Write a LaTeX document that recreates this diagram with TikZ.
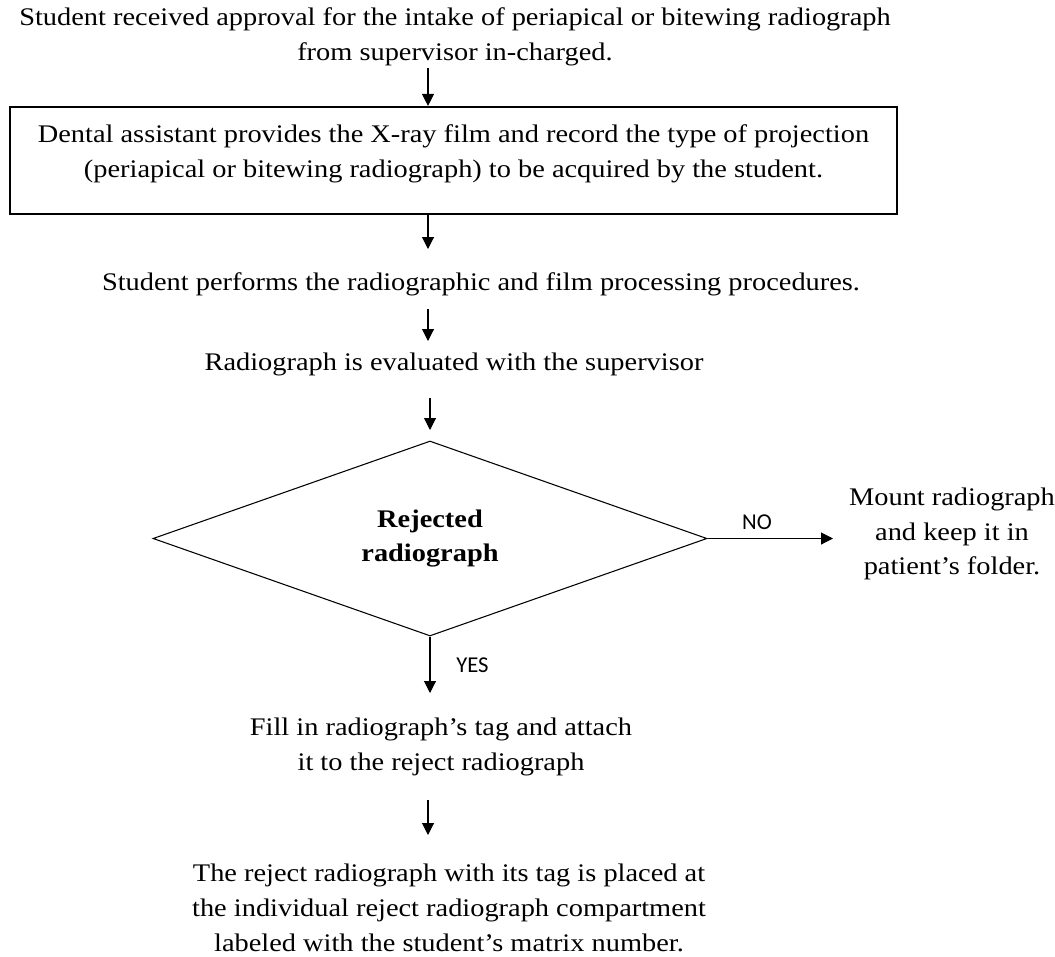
\documentclass[tikz,border=0pt]{standalone}
\usepackage{fontspec}
\setmainfont{Liberation Serif}[FakeStretch=1.12]
\newfontfamily\labelfont{Carlito}
\usetikzlibrary{shapes.geometric,arrows.meta}
\tikzset{
	step text/.style={align=center, font=\fontsize{19}{26}\selectfont},
	flow/.style={-{Triangle[length=9pt,width=9pt]}, line width=0.8pt},
	answer/.style={font=\labelfont\fontsize{17}{19}\selectfont}
}
\begin{document}
\begin{tikzpicture}[x=0.75pt, y=-0.75pt]
		\useasboundingbox (0,0) rectangle (1055,956);
		% Steps
		\node [step text] (approval) at (455,37) {Student received approval for the intake of periapical or bitewing radiograph\\from supervisor in-charged.};
		\node [step text, draw, line width=1.6pt, minimum width=887*0.75pt, minimum height=107*0.75pt, text depth=14pt] (assistant) at (453.5,160.5) {Dental assistant provides the X-ray film and record the type of projection\\(periapical or bitewing radiograph) to be acquired by the student.};
		\node [step text] (perform) at (481,284) {Student performs the radiographic and film processing procedures.};
		\node [step text] (evaluate) at (454,364) {Radiograph is evaluated with the supervisor};
		% Decision
		\node [diamond, draw, line width=0.8pt, inner sep=0pt, minimum width=554*0.75pt, minimum height=187*0.75pt, step text, font=\fontsize{19}{26}\selectfont\bfseries] (reject) at (430,538.5) {Rejected\\radiograph};
		\node [step text] (mount) at (952,534) {Mount radiograph\\and keep it in\\patient's folder.};
		\node [step text] (tag) at (441,747) {Fill in radiograph's tag and attach\\it to the reject radiograph};
		\node [step text, inner ysep=1pt] (place) at (449,908) {The reject radiograph with its tag is placed at\\the individual reject radiograph compartment\\labeled with the student's matrix number.};
		% Arrows
		\coordinate (spine) at (428,0);
		\draw [flow] (spine |- 0,68) -- (spine |- assistant.north);
		\draw [flow] (spine |- assistant.south) -- (spine |- 0,249);
		\draw [flow] (spine |- 0,309) -- (spine |- 0,341);
		\draw [flow] (reject.center |- 0,398) -- (reject.center |- 0,430);
		\draw [flow] (reject.east) -- (833,538.5) node [midway, above=3pt, xshift=-10pt, answer] {NO};
		\draw [flow] (reject.south) -- (reject.center |- 0,693) node [midway, right=16pt, answer] {YES};
		\draw [flow] (spine |- 0,800) -- (spine |- 0,835);
	\end{tikzpicture}
\end{document}
